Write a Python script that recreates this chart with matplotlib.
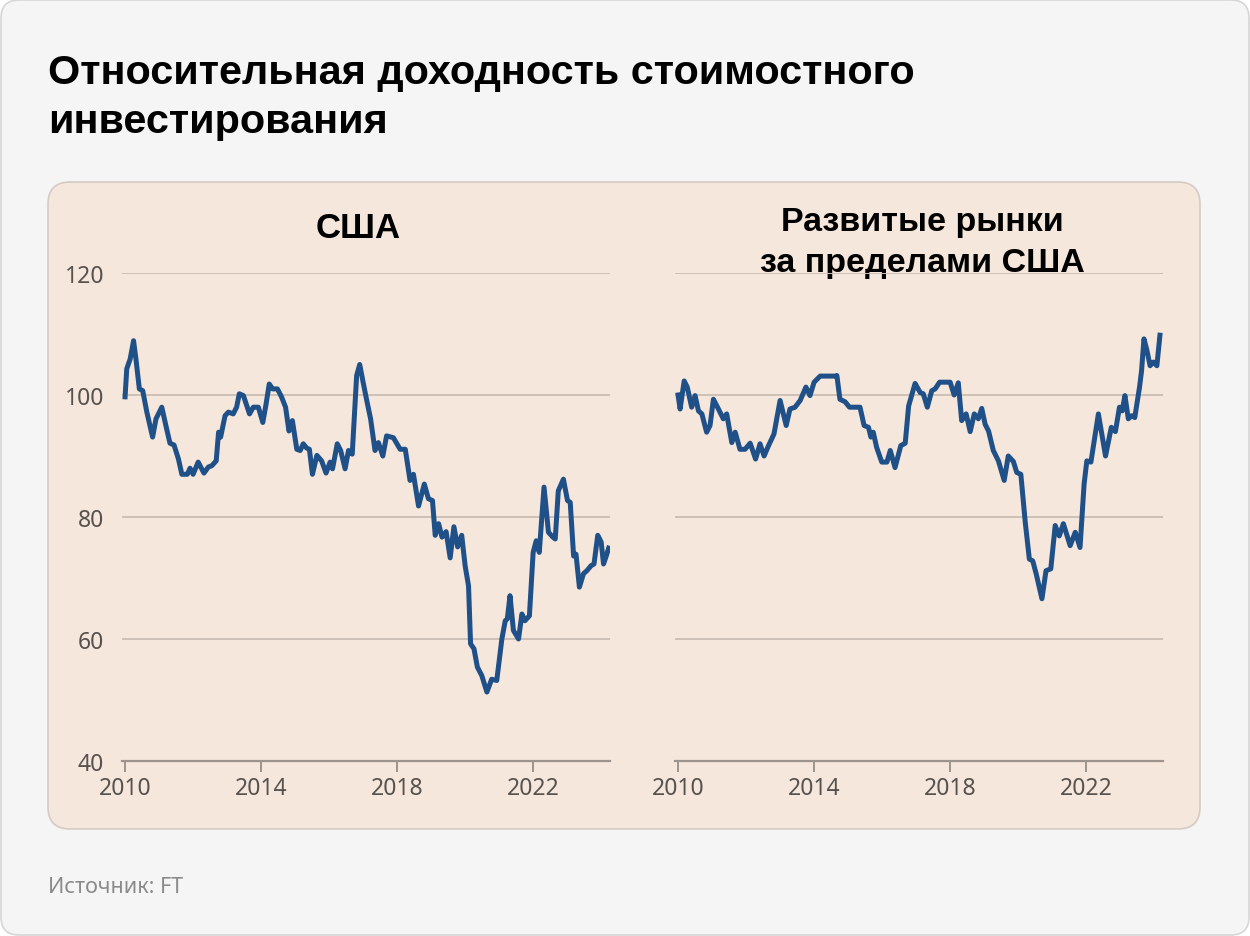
import matplotlib
matplotlib.use("Agg")
import matplotlib.pyplot as plt
from matplotlib.patches import FancyBboxPatch

# US value vs growth relative performance
us_year = [2010.0, 2010.05, 2010.15, 2010.25, 2010.32, 2010.42, 2010.52, 2010.64, 2010.81, 2010.91,
           2011.08, 2011.2, 2011.32, 2011.44, 2011.57, 2011.67, 2011.83, 2011.91, 2012.0, 2012.15,
           2012.32, 2012.45, 2012.55, 2012.68, 2012.75, 2012.81, 2012.94, 2013.04, 2013.18, 2013.28,
           2013.36, 2013.48, 2013.66, 2013.77, 2013.92, 2014.05, 2014.14, 2014.24, 2014.34, 2014.48,
           2014.6, 2014.72, 2014.82, 2014.92, 2015.05, 2015.15, 2015.24, 2015.34, 2015.42, 2015.51,
           2015.64, 2015.78, 2015.91, 2016.03, 2016.1, 2016.24, 2016.34, 2016.47, 2016.57, 2016.68,
           2016.81, 2016.9, 2017.0, 2017.1, 2017.22, 2017.35, 2017.45, 2017.58, 2017.69, 2017.89,
           2018.09, 2018.24, 2018.38, 2018.48, 2018.63, 2018.8, 2018.92, 2019.04, 2019.12, 2019.22,
           2019.32, 2019.44, 2019.56, 2019.67, 2019.78, 2019.9, 2020.0, 2020.1, 2020.16, 2020.26,
           2020.36, 2020.49, 2020.64, 2020.78, 2020.93, 2021.08, 2021.18, 2021.24, 2021.32, 2021.42,
           2021.57, 2021.67, 2021.76, 2021.89, 2022.0, 2022.09, 2022.18, 2022.32, 2022.45, 2022.58,
           2022.65, 2022.74, 2022.89, 2023.01, 2023.09, 2023.19, 2023.26, 2023.36, 2023.48, 2023.58,
           2023.7, 2023.79, 2023.9, 2024.0, 2024.07, 2024.15, 2024.22]
us_value = [99.7, 104.3, 105.9, 108.9, 105.9, 101.0, 100.7, 97.2, 93.1, 96.1,
            98.0, 95.0, 92.1, 91.8, 89.5, 87.0, 87.0, 88.0, 87.0, 89.0,
            87.2, 88.2, 88.4, 89.2, 93.9, 93.1, 96.6, 97.2, 96.9, 98.0,
            100.2, 99.9, 96.9, 98.0, 98.0, 95.5, 98.3, 101.8, 101.0, 101.0,
            99.7, 98.0, 94.1, 95.8, 91.1, 90.9, 92.0, 91.3, 91.1, 87.0,
            90.1, 89.2, 87.2, 89.0, 87.9, 92.0, 90.9, 87.9, 90.9, 90.3,
            103.2, 105.0, 102.1, 99.3, 96.1, 90.9, 92.2, 90.0, 93.3, 93.0,
            91.1, 91.1, 86.0, 87.0, 81.8, 85.4, 83.0, 82.7, 77.0, 78.9,
            76.7, 77.6, 73.3, 78.4, 75.1, 77.0, 72.0, 68.7, 59.2, 58.4,
            55.4, 54.0, 51.3, 53.4, 53.2, 60.0, 63.0, 63.3, 67.1, 61.4,
            60.0, 64.1, 63.0, 63.8, 74.2, 76.1, 74.2, 84.9, 77.5, 76.7,
            76.4, 84.3, 86.2, 82.7, 82.4, 73.6, 73.9, 68.5, 70.7, 71.2,
            72.0, 72.3, 77.0, 75.9, 72.3, 73.6, 74.9]

# Developed markets outside the US
dm_year = [2010.0, 2010.06, 2010.18, 2010.27, 2010.4, 2010.5, 2010.6, 2010.7, 2010.84, 2010.94,
           2011.04, 2011.16, 2011.33, 2011.43, 2011.58, 2011.68, 2011.82, 2011.97, 2012.12, 2012.28,
           2012.41, 2012.53, 2012.66, 2012.82, 2013.0, 2013.18, 2013.29, 2013.44, 2013.59, 2013.76,
           2013.88, 2014.0, 2014.18, 2014.62, 2014.67, 2014.76, 2014.91, 2015.04, 2015.35, 2015.47,
           2015.6, 2015.67, 2015.74, 2015.84, 2015.99, 2016.14, 2016.24, 2016.38, 2016.55, 2016.68,
           2016.78, 2016.97, 2017.12, 2017.21, 2017.33, 2017.46, 2017.56, 2017.69, 2018.0, 2018.12,
           2018.24, 2018.34, 2018.47, 2018.59, 2018.71, 2018.83, 2018.93, 2019.03, 2019.13, 2019.27,
           2019.42, 2019.59, 2019.71, 2019.86, 2019.96, 2020.08, 2020.21, 2020.33, 2020.43, 2020.53,
           2020.7, 2020.82, 2020.96, 2021.09, 2021.21, 2021.33, 2021.53, 2021.68, 2021.82, 2021.94,
           2022.02, 2022.14, 2022.36, 2022.57, 2022.74, 2022.86, 2022.98, 2023.06, 2023.14, 2023.24,
           2023.34, 2023.43, 2023.57, 2023.63, 2023.7, 2023.78, 2023.88, 2023.98, 2024.08, 2024.17]
dm_value = [100.0, 97.7, 102.3, 101.3, 98.0, 99.9, 97.4, 96.9, 93.9, 95.0,
            99.3, 98.0, 96.1, 96.9, 92.2, 93.9, 91.1, 91.1, 92.1, 89.5,
            92.0, 90.0, 91.7, 93.6, 99.1, 95.0, 97.7, 98.0, 99.1, 101.3,
            99.9, 102.1, 103.1, 103.1, 103.2, 99.3, 98.9, 98.0, 98.0, 95.0,
            94.7, 93.1, 93.9, 91.4, 89.0, 89.0, 90.9, 88.1, 91.7, 92.1,
            98.2, 101.9, 100.4, 100.2, 98.0, 100.7, 101.0, 102.1, 102.1, 100.0,
            102.0, 95.8, 96.9, 94.0, 96.9, 96.1, 97.8, 95.2, 94.1, 90.9,
            89.2, 86.0, 90.0, 89.1, 87.3, 87.0, 79.1, 73.1, 72.8, 70.7,
            66.6, 71.2, 71.5, 78.6, 76.9, 78.9, 75.3, 77.5, 75.0, 85.4,
            89.2, 89.0, 96.9, 90.0, 94.7, 94.0, 98.0, 97.4, 99.9, 96.1,
            96.6, 96.3, 101.3, 104.0, 109.2, 107.5, 104.8, 105.4, 104.8, 109.8]

year_ticks = [2010, 2014, 2018, 2022]
value_ticks = [40, 60, 80, 100, 120]

title_lines = ["Относительная доходность стоимостного", "инвестирования"]
left_title = "США"
right_title = ["Развитые рынки", "за пределами США"]
source = "Источник: FT"

W, H = 1250, 937
LINE = "#1f5088"
GRID = "#cdc0b6"
AXIS = "#9d948d"
TICKTXT = "#57524e"

fig = plt.figure(figsize=(W / 100, H / 100), dpi=100)
fig.patch.set_facecolor("white")

# background axes in pixel coordinates
bg = fig.add_axes([0, 0, 1, 1], zorder=0)
bg.set_xlim(0, W)
bg.set_ylim(H, 0)
bg.axis("off")
bg.add_patch(FancyBboxPatch((1, 1), W - 2, H - 2, boxstyle="round,pad=0,rounding_size=18",
                            facecolor="#f5f5f5", edgecolor="#d6d6d6", lw=1.2))
bg.add_patch(FancyBboxPatch((48, 183), 1152, 647, boxstyle="round,pad=0,rounding_size=22",
                            facecolor="#f6e7dd", edgecolor="#d5cbc4", lw=1.2))

for i, line in enumerate(title_lines):
    bg.text(48, 84 + 49 * i, line, fontsize=29.8, fontweight="bold", family="Liberation Sans",
            color="black", va="baseline", ha="left")
bg.text(358, 238, left_title, fontsize=25, fontweight="bold", family="Liberation Sans",
        color="black", va="baseline", ha="center")
bg.text(922, 231, right_title[0], fontsize=24.5, fontweight="bold", family="Liberation Sans",
        color="black", va="baseline", ha="center")
bg.text(922, 272, right_title[1], fontsize=24.5, fontweight="bold", family="Liberation Sans",
        color="black", va="baseline", ha="center")
bg.text(48, 893, source, fontsize=15.5, family="Noto Sans", color="#8a8a8a",
        va="baseline", ha="left")

x0, x1 = 2009.91, 2024.26
ax_w = 488 / W
ax_b = 1 - 762 / H
ax_h = 488 / H


def style_axes(ax, show_y):
    ax.set_facecolor("none")
    ax.set_xlim(x0, x1)
    ax.set_ylim(40, 120)
    ax.set_xticks(year_ticks)
    ax.set_yticks(value_ticks)
    for v in value_ticks[1:]:
        ax.axhline(v, color=GRID, lw=1.4, zorder=1)
    for s in ["top", "right", "left"]:
        ax.spines[s].set_visible(False)
    ax.spines["bottom"].set_color(AXIS)
    ax.spines["bottom"].set_linewidth(1.6)
    ax.tick_params(axis="x", direction="out", length=8, width=1.4, color=AXIS,
                   labelsize=16.5, labelcolor=TICKTXT, pad=3)
    ax.tick_params(axis="y", length=0, labelsize=16.5, labelcolor=TICKTXT, pad=13)
    for lab in ax.get_xticklabels() + ax.get_yticklabels():
        lab.set_family("Noto Sans")
    if not show_y:
        ax.set_yticklabels([])


ax1 = fig.add_axes([122 / W, ax_b, ax_w, ax_h], zorder=2)
style_axes(ax1, True)
ax1.plot(us_year, us_value, color=LINE, lw=3.6, solid_joinstyle="round", zorder=3)

ax2 = fig.add_axes([675 / W, ax_b, ax_w, ax_h], zorder=2)
style_axes(ax2, False)
ax2.plot(dm_year, dm_value, color=LINE, lw=3.6, solid_joinstyle="round", zorder=3)

fig.savefig("out.png", dpi=100, facecolor=fig.get_facecolor())
